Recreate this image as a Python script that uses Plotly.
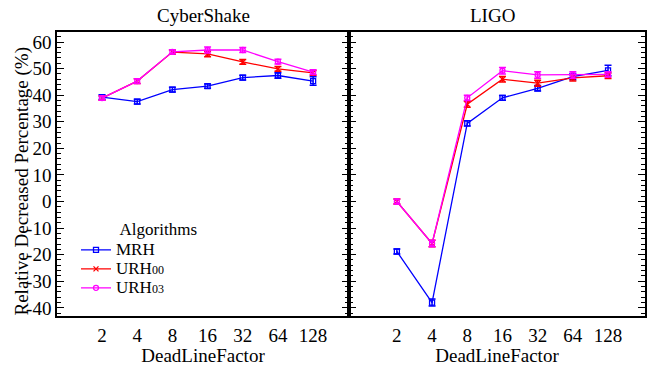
import plotly.graph_objects as go

factors = ["2", "4", "8", "16", "32", "64", "128"]

cyber_mrh = [39.3, 37.6, 42.1, 43.4, 46.6, 47.4, 45.3]
cyber_mrh_err = [0.9, 0.9, 0.9, 0.8, 0.9, 1.0, 1.6]
cyber_urh00 = [38.9, 45.3, 56.2, 55.5, 52.5, 49.9, 48.4]
cyber_urh00_err = [0.8, 0.9, 0.8, 1.0, 0.9, 0.9, 0.9]
cyber_urh03 = [38.9, 45.3, 56.3, 57.0, 57.0, 52.6, 48.7]
cyber_urh03_err = [0.8, 0.9, 0.8, 1.1, 0.9, 0.9, 0.9]

ligo_mrh = [-18.8, -38.0, 29.4, 39.0, 42.6, 47.0, 49.3]
ligo_mrh_err = [0.9, 1.3, 1.0, 0.9, 1.0, 1.2, 2.0]
ligo_urh00 = [0.0, -15.8, 36.6, 46.0, 44.5, 46.5, 47.3]
ligo_urh00_err = [0.9, 1.2, 1.1, 1.0, 1.1, 1.2, 1.0]
ligo_urh03 = [0.0, -15.8, 39.0, 49.2, 47.6, 47.6, 47.8]
ligo_urh03_err = [0.9, 1.2, 1.0, 1.2, 1.2, 1.2, 1.0]

yticks = [-40, -30, -20, -10, 0, 10, 20, 30, 40, 50, 60]
ytick_text = ["-40", "-30", "-20", "-10", "0", "10", "20", "30", "40", "50", "60"]

names = [
    "<span style='font-size:17px'>MRH</span>",
    "<span style='font-size:17px'>URH</span><span style='font-size:12px'>00</span>",
    "<span style='font-size:17px'>URH</span><span style='font-size:12px'>03</span>",
]
colors = ["#0000ff", "#ff0000", "#ff00ff"]
symbols = ["square-open", "x-thin-open", "circle-open"]

FONT = "Liberation Serif, Times New Roman, serif"

fig = go.Figure()
series = [
    (cyber_mrh, cyber_mrh_err, ligo_mrh, ligo_mrh_err),
    (cyber_urh00, cyber_urh00_err, ligo_urh00, ligo_urh00_err),
    (cyber_urh03, cyber_urh03_err, ligo_urh03, ligo_urh03_err),
]
for i, (cy, cye, ly, lye) in enumerate(series):
    for j, (yy, ee, xa, ya) in enumerate([(cy, cye, "x", "y"), (ly, lye, "x2", "y2")]):
        fig.add_trace(go.Scatter(
            x=factors, y=yy, xaxis=xa, yaxis=ya,
            mode="lines+markers",
            name=names[i], showlegend=(j == 0), legendgroup=str(i),
            line=dict(color=colors[i], width=1.3),
            marker=dict(symbol=symbols[i], size=5, color=colors[i],
                        line=dict(color=colors[i], width=1.3)),
            error_y=dict(type="data", array=ee, visible=True, color=colors[i],
                         thickness=1.5, width=3.5),
        ))

axis_common_y = dict(
    range=[-43.1, 63.6], tickvals=yticks, ticktext=ytick_text,
    ticks="inside", ticklen=7, tickwidth=1.3, tickcolor="black",
    minor=dict(ticks="inside", dtick=2, ticklen=4, tickwidth=1.2, tickcolor="black"),
    showline=True, linecolor="black", linewidth=1.5, mirror="ticks",
    showgrid=False, zeroline=False,
    domain=[0.132, 0.9134],
    tickfont=dict(family=FONT, size=19, color="black"),
)

xcommon = dict(
    type="category", categoryorder="array", categoryarray=factors,
    showline=True, linecolor="black", linewidth=1.5, mirror=True,
    ticks="", showgrid=False, zeroline=False, ticklabelstandoff=1,
    tickfont=dict(family=FONT, size=19, color="black"),
    title=dict(text="DeadLineFactor", font=dict(family=FONT, size=19), standoff=0),
)

fig.update_layout(
    width=656, height=366,
    margin=dict(l=0, r=0, t=0, b=0),
    paper_bgcolor="white", plot_bgcolor="white",
    font=dict(family=FONT, color="black", size=19),
    xaxis=dict(domain=[57/656, 349/656], range=[-1.28, 7.02], anchor="y", **xcommon),
    xaxis2=dict(domain=[349/656, 645/656], range=[-1.36, 7.05], anchor="y2", **xcommon),
    yaxis=dict(anchor="x", **axis_common_y),
    yaxis2=dict(anchor="x2", matches="y", showticklabels=False,
                **{k: v for k, v in axis_common_y.items() if k != "tickfont"}),
    legend=dict(
        x=76/656, y=1-214/366, xanchor="left", yanchor="top",
        bgcolor="rgba(0,0,0,0)", borderwidth=0,
        font=dict(family=FONT, size=12, color="black"),
        title=dict(text="          Algorithms", font=dict(family=FONT, size=17)),
        itemwidth=30, tracegroupgap=0,
    ),
    annotations=[
        dict(text="CyberShake", x=203/656, y=1-15/366, xref="paper", yref="paper",
             xanchor="center", yanchor="middle",
             showarrow=False, font=dict(family=FONT, size=19)),
        dict(text="LIGO", x=492/656, y=1-15/366, xref="paper", yref="paper",
             xanchor="center", yanchor="middle",
             showarrow=False, font=dict(family=FONT, size=19)),
        dict(text="Relative Decreased Percentage (%)", x=22/656, y=1-182/366,
             xref="paper", yref="paper", xanchor="center", yanchor="middle",
             textangle=-90, showarrow=False, font=dict(family=FONT, size=19)),
    ],
)

fig.write_html("out.html")
